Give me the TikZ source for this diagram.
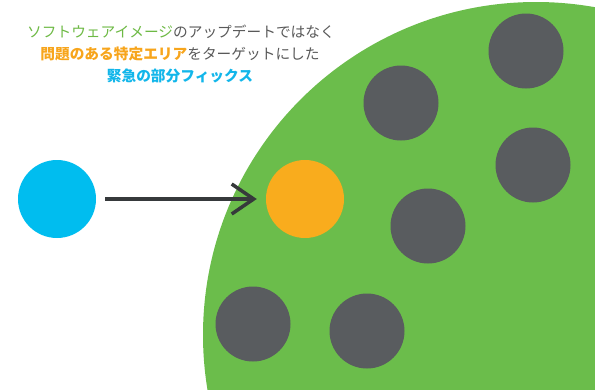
\documentclass[tikz,border=0pt]{standalone}
\usepackage{fontspec}
\newfontfamily\jpfont{Noto Sans CJK JP}
\usepackage{tikz}
\usetikzlibrary{arrows.meta}

\definecolor{areagreen}{HTML}{6BBD4B}
\definecolor{cellgray}{HTML}{595C5F}
\definecolor{fixblue}{HTML}{00BDEF}
\definecolor{spotorange}{HTML}{F9AC1D}
\definecolor{arrowgray}{HTML}{36393B}
\definecolor{textgray}{HTML}{595959}
\definecolor{textgreen}{HTML}{6DB944}
\definecolor{textorange}{HTML}{F7A51C}
\definecolor{textblue}{HTML}{12B6EA}

\begin{document}
\begin{tikzpicture}[x=1pt,y=-1pt,
    dot/.style={circle,inner sep=0pt,minimum size=78pt},
    cell/.style={dot,fill=cellgray,minimum size=75pt},
    caption/.style={font=\jpfont\fontsize{14.7}{17}\selectfont,text=textgray,inner sep=0pt},
    fixarrow/.style={draw=arrowgray,line width=3.5pt,shorten <=9pt,shorten >=9pt,
      -{Straight Barb[length=22pt,width=30pt,line width=3.5pt]}}]
  \useasboundingbox (0,0) rectangle (595,389);
  \clip (0,0) rectangle (595,389);
      \fill[areagreen] (536,335) circle [radius=333];
      \draw (181,32) node[caption] (line1) {{\color{textgreen}ソフトウェアイメージ}のアップデートではなく};
      \draw (180,54) node[caption] (line2) {{\bfseries\color{textorange}問題のある特定エリア}をターゲットにした};
      \draw (180,76) node[caption,text=textblue,font=\jpfont\bfseries\fontsize{14.7}{17}\selectfont] (line3) {緊急の部分フィックス};
%%%%%%%%%%%%%%%%%%%%%%%%%%%%%%%%%%%%%%%%%%%%%%%%%%%%%%%%%%%%%%%%%%%%%%%
      \draw (57,199) node[dot,fill=fixblue] (fix) {};
      \draw (305,199) node[dot,fill=spotorange] (spot) {};
      \draw (526,51) node[cell] (cell1) {};
      \draw (401,103) node[cell] (cell2) {};
      \draw (533,165) node[cell] (cell3) {};
      \draw (428,226) node[cell] (cell4) {};
      \draw (253,324) node[cell] (cell5) {};
      \draw (367,331) node[cell] (cell6) {};
      \path[fixarrow] (fix) edge (spot);
\end{tikzpicture}
\end{document}
